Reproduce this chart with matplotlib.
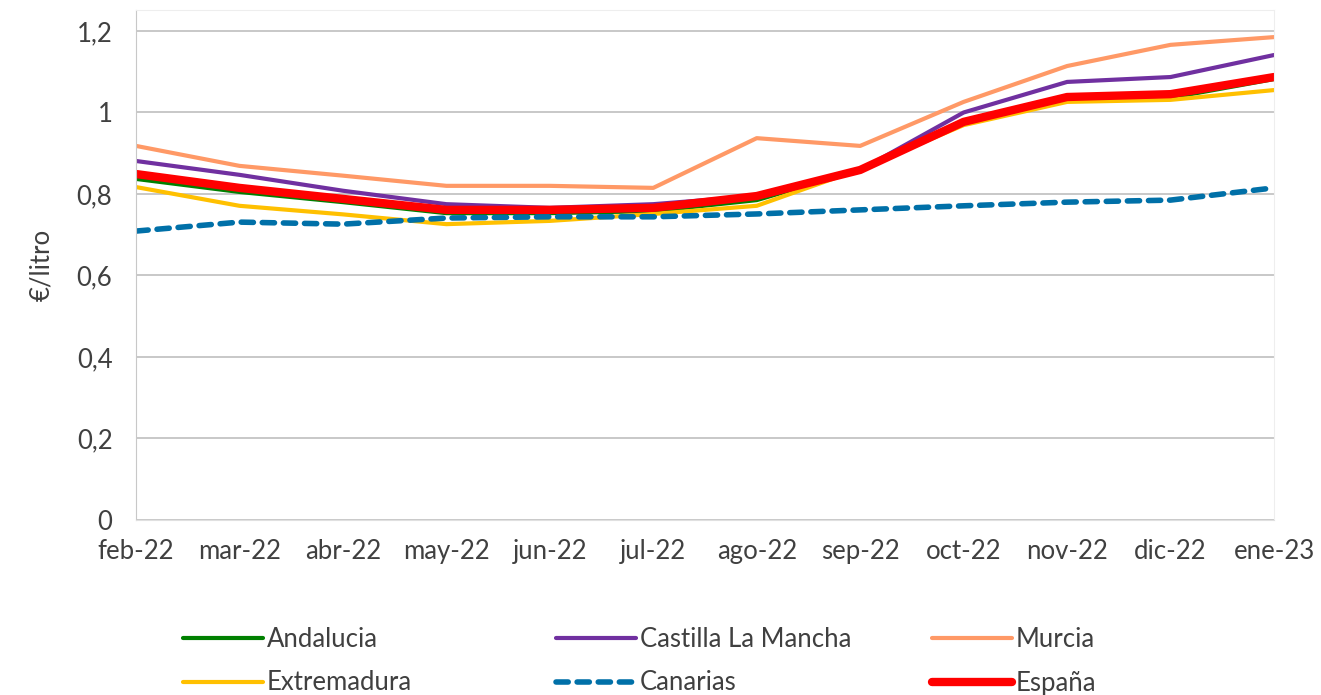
import matplotlib
matplotlib.use("Agg")
import matplotlib.pyplot as plt

plt.rcParams['font.family'] = ['Lato', 'DejaVu Sans']

months = ["feb-22", "mar-22", "abr-22", "may-22", "jun-22", "jul-22",
          "ago-22", "sep-22", "oct-22", "nov-22", "dic-22", "ene-23"]

andalucia   = [0.837, 0.805, 0.780, 0.753, 0.753, 0.758, 0.785, 0.859, 0.972, 1.031, 1.036, 1.082]
castilla    = [0.881, 0.847, 0.808, 0.775, 0.766, 0.775, 0.795, 0.859, 1.000, 1.075, 1.087, 1.141]
murcia      = [0.918, 0.869, 0.845, 0.820, 0.820, 0.815, 0.937, 0.918, 1.026, 1.114, 1.166, 1.185]
extremadura = [0.817, 0.771, 0.750, 0.726, 0.734, 0.751, 0.771, 0.861, 0.969, 1.026, 1.031, 1.055]
canarias    = [0.709, 0.731, 0.726, 0.741, 0.744, 0.744, 0.751, 0.761, 0.771, 0.780, 0.785, 0.815]
espana      = [0.849, 0.815, 0.788, 0.761, 0.761, 0.766, 0.795, 0.859, 0.977, 1.038, 1.045, 1.087]

yticks = [0, 0.2, 0.4, 0.6, 0.8, 1.0, 1.2]
ytick_labels = ["0", "0,2", "0,4", "0,6", "0,8", "1", "1,2"]

FS = 18.5
TXT = "#404040"

fig = plt.figure(figsize=(13.21, 6.95), dpi=100)
ax = fig.add_axes([136/1321, 1 - 520/695, (1274-136)/1321, (520-10)/695])

x = list(range(len(months)))
l_and, = ax.plot(x, andalucia, color="#008000", lw=3, label="Andalucia", solid_capstyle="round")
l_cas, = ax.plot(x, castilla, color="#7030A0", lw=3, label="Castilla La Mancha", solid_capstyle="round")
l_mur, = ax.plot(x, murcia, color="#FF9966", lw=3, label="Murcia", solid_capstyle="round")
l_ext, = ax.plot(x, extremadura, color="#FFC000", lw=3, label="Extremadura", solid_capstyle="round")
l_can, = ax.plot(x, canarias, color="#0070A8", lw=4, ls=(0, (2.2, 1.6)), label="Canarias", dash_capstyle="round")
l_esp, = ax.plot(x, espana, color="#FF0000", lw=6, label="España", solid_capstyle="round")

ax.set_xlim(0, len(months) - 1)
ax.set_ylim(0, 1.2515)
ax.set_yticks(yticks)
ax.set_yticklabels(ytick_labels)
ax.set_xticks(x)
ax.set_xticklabels(months)
ax.grid(axis="y", color="#BFBFBF", lw=1.2)
ax.set_axisbelow(True)
for s in ["top", "right"]:
    ax.spines[s].set_color("#EEEEEE")
ax.spines["left"].set_color("#C8C8C8")
ax.spines["bottom"].set_color("#E0E0E0")
ax.tick_params(axis="both", length=0, labelsize=FS, colors=TXT)
ax.tick_params(axis="y", pad=17)
ax.tick_params(axis="x", pad=14)
ax.set_ylabel("€/litro", fontsize=FS, color=TXT, labelpad=16)

cols = [([l_and, l_ext], 183), ([l_cas, l_can], 556), ([l_mur, l_esp], 932)]
for handles, xpx in cols:
    leg = fig.legend(handles=handles, labels=[h.get_label() for h in handles],
                     loc="upper left", bbox_to_anchor=(xpx/1321, 1 - 627/695),
                     ncol=1, frameon=False, fontsize=FS, handlelength=3.1,
                     handletextpad=0.15, labelspacing=0.72, borderpad=0,
                     borderaxespad=0)
    for t in leg.get_texts():
        t.set_color(TXT)

fig.savefig("out.png", dpi=100)
